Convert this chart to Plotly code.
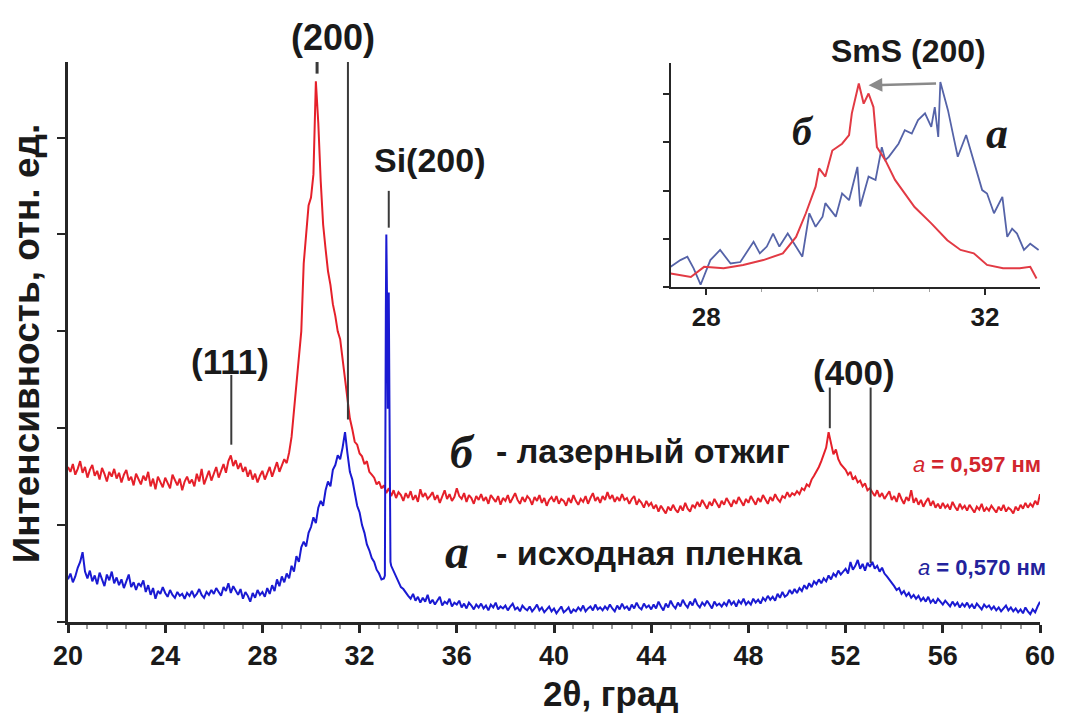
import numpy as np
import plotly.graph_objects as go

# ---------------- data: main pattern (2theta step 0.1 deg, 20..60) ----------------
two_theta = np.round(np.linspace(20, 60, 401), 2)

red_b = [
    1.60, 1.55, 1.63, 1.52, 1.58, 1.66, 1.54, 1.60, 1.49, 1.57,   # 20
    1.62, 1.51, 1.56, 1.47, 1.59, 1.53, 1.45, 1.55, 1.50, 1.58,   # 21
    1.48, 1.54, 1.44, 1.52, 1.57, 1.46, 1.50, 1.41, 1.53, 1.47,   # 22
    1.42, 1.51, 1.46, 1.55, 1.40, 1.48, 1.37, 1.50, 1.44, 1.39,   # 23
    1.49, 1.43, 1.38, 1.52, 1.46, 1.41, 1.48, 1.36, 1.45, 1.50,   # 24
    1.43, 1.47, 1.40, 1.53, 1.45, 1.58, 1.42, 1.50, 1.56, 1.46,   # 25
    1.52, 1.60, 1.49, 1.57, 1.63, 1.54, 1.66, 1.72, 1.61, 1.67,   # 26
    1.58, 1.64, 1.55, 1.60, 1.50, 1.57, 1.47, 1.53, 1.44, 1.51,   # 27
    1.56, 1.47, 1.53, 1.60, 1.50, 1.58, 1.65, 1.55, 1.62, 1.68,   # 28
    1.64, 1.75, 1.91, 2.20, 2.50, 2.75, 3.00, 3.70, 4.05, 4.30,   # 29
    4.38, 4.62, 5.58, 5.15, 4.55, 4.10, 3.85, 3.62, 3.48, 3.28,   # 30
    3.16, 3.00, 2.92, 2.70, 2.50, 2.26, 2.10, 1.99, 1.86, 1.83,   # 31
    1.74, 1.71, 1.63, 1.66, 1.55, 1.52, 1.49, 1.42, 1.45, 1.38,   # 32
    1.41, 1.33, 1.38, 1.30, 1.36, 1.28, 1.34, 1.31, 1.25, 1.33,   # 33
    1.28, 1.35, 1.26, 1.31, 1.24, 1.37, 1.29, 1.33, 1.27, 1.30,   # 34
    1.34, 1.26, 1.31, 1.23, 1.29, 1.36, 1.27, 1.32, 1.25, 1.29,   # 35
    1.38, 1.30, 1.27, 1.33, 1.24, 1.31, 1.28, 1.22, 1.30, 1.26,   # 36
    1.32, 1.25, 1.29, 1.22, 1.31, 1.27, 1.24, 1.30, 1.21, 1.28,   # 37
    1.25, 1.31, 1.23, 1.28, 1.33, 1.26, 1.22, 1.29, 1.24, 1.30,   # 38
    1.27, 1.21, 1.29, 1.25, 1.31, 1.23, 1.28, 1.20, 1.26, 1.29,   # 39
    1.24, 1.30, 1.22, 1.27, 1.25, 1.20, 1.28, 1.23, 1.31, 1.25,   # 40
    1.21, 1.27, 1.24, 1.30, 1.22, 1.28, 1.33, 1.25, 1.29, 1.23,   # 41
    1.30, 1.26, 1.34, 1.27, 1.31, 1.24, 1.29, 1.25, 1.32, 1.26,   # 42
    1.28, 1.22, 1.27, 1.30, 1.21, 1.26, 1.23, 1.18, 1.25, 1.20,   # 43
    1.23, 1.17, 1.21, 1.14, 1.20, 1.16, 1.12, 1.19, 1.15, 1.21,   # 44
    1.16, 1.13, 1.20, 1.15, 1.23, 1.17, 1.14, 1.21, 1.18, 1.24,   # 45
    1.19, 1.26, 1.21, 1.17, 1.24, 1.20, 1.27, 1.22, 1.18, 1.25,   # 46
    1.21, 1.28, 1.23, 1.19, 1.26, 1.22, 1.29, 1.24, 1.20, 1.27,   # 47
    1.23, 1.30, 1.25, 1.21, 1.28, 1.24, 1.31, 1.26, 1.22, 1.29,   # 48
    1.25, 1.32, 1.27, 1.24, 1.30, 1.28, 1.34, 1.29, 1.33, 1.31,   # 49
    1.35, 1.32, 1.38, 1.36, 1.42, 1.40, 1.47, 1.51, 1.55, 1.60,   # 50
    1.66, 1.72, 1.80, 1.96, 1.84, 1.73, 1.78, 1.68, 1.63, 1.60,   # 51
    1.57, 1.52, 1.55, 1.47, 1.50, 1.44, 1.46, 1.40, 1.43, 1.36,   # 52
    1.38, 1.34, 1.30, 1.36, 1.29, 1.33, 1.27, 1.31, 1.35, 1.26,   # 53
    1.30, 1.24, 1.33, 1.27, 1.22, 1.29, 1.25, 1.36, 1.23, 1.28,   # 54
    1.21, 1.26, 1.19, 1.24, 1.28, 1.20, 1.25, 1.18, 1.22, 1.17,   # 55
    1.23, 1.18, 1.21, 1.16, 1.24, 1.19, 1.15, 1.22, 1.17, 1.20,   # 56
    1.15, 1.21, 1.17, 1.13, 1.19, 1.16, 1.22, 1.14, 1.18, 1.15,   # 57
    1.20, 1.16, 1.13, 1.19, 1.15, 1.21, 1.14, 1.18, 1.16, 1.12,   # 58
    1.19, 1.15, 1.21, 1.17, 1.23, 1.18, 1.22, 1.19, 1.25, 1.21,   # 59
    1.32,                                                         # 60
]

blue_a = [
    0.44, 0.50, 0.41, 0.47, 0.56, 0.62, 0.72, 0.52, 0.45, 0.53,   # 20
    0.42, 0.48, 0.39, 0.51, 0.44, 0.37, 0.49, 0.43, 0.52, 0.40,   # 21
    0.46, 0.38, 0.44, 0.35, 0.42, 0.49, 0.36, 0.41, 0.33, 0.40,   # 22
    0.37, 0.43, 0.31, 0.38, 0.28, 0.35, 0.24, 0.32, 0.29, 0.36,   # 23
    0.30, 0.26, 0.33, 0.28, 0.25, 0.31, 0.27, 0.29, 0.24, 0.30,   # 24
    0.27, 0.32, 0.26, 0.29, 0.34, 0.28, 0.25, 0.31, 0.28, 0.33,   # 25
    0.29, 0.35, 0.31, 0.27, 0.36, 0.32, 0.40, 0.30, 0.37, 0.33,   # 26
    0.28, 0.34, 0.24, 0.31, 0.27, 0.21, 0.30, 0.25, 0.33, 0.28,   # 27
    0.31, 0.26, 0.35, 0.29, 0.38, 0.32, 0.44, 0.37, 0.47, 0.41,   # 28
    0.50, 0.45, 0.58, 0.52, 0.68, 0.62, 0.77, 0.83, 0.78, 0.92,   # 29
    0.98, 1.08, 1.02, 1.18, 1.25, 1.20, 1.36, 1.45, 1.40, 1.57,   # 30
    1.62, 1.72, 1.68, 1.80, 1.96, 1.74, 1.55, 1.47, 1.32, 1.20,   # 31
    1.13, 1.00, 0.92, 0.80, 0.74, 0.66, 0.62, 0.54, 0.50, 0.44,   # 32
    0.45, 4.00, 3.40, 0.58, 0.52, 0.46, 0.42, 0.36, 0.34, 0.30,   # 33
    0.27, 0.24, 0.29, 0.22, 0.26, 0.20, 0.25, 0.21, 0.28, 0.19,   # 34
    0.23, 0.18, 0.22, 0.26, 0.17, 0.21, 0.19, 0.24, 0.16, 0.20,   # 35
    0.18, 0.22, 0.15, 0.19, 0.14, 0.20, 0.17, 0.13, 0.18, 0.15,   # 36
    0.19, 0.14, 0.17, 0.12, 0.18, 0.15, 0.20, 0.13, 0.16, 0.14,   # 37
    0.17, 0.12, 0.16, 0.19, 0.13, 0.15, 0.11, 0.17, 0.14, 0.12,   # 38
    0.16, 0.11, 0.14, 0.18, 0.12, 0.15, 0.10, 0.13, 0.16, 0.11,   # 39
    0.14, 0.09, 0.13, 0.16, 0.10, 0.12, 0.15, 0.09, 0.13, 0.11,   # 40
    0.15, 0.12, 0.17, 0.11, 0.14, 0.16, 0.12, 0.18, 0.13, 0.15,   # 41
    0.12, 0.16, 0.13, 0.18, 0.14, 0.11, 0.17, 0.13, 0.19, 0.14,   # 42
    0.16, 0.12, 0.18, 0.14, 0.20, 0.15, 0.13, 0.19, 0.15, 0.17,   # 43
    0.13, 0.18, 0.14, 0.21, 0.16, 0.12, 0.19, 0.15, 0.22, 0.17,   # 44
    0.14, 0.20, 0.16, 0.23, 0.18, 0.15, 0.21, 0.17, 0.24, 0.18,   # 45
    0.15, 0.20, 0.17, 0.22, 0.18, 0.14, 0.21, 0.17, 0.19, 0.16,   # 46
    0.20, 0.17, 0.23, 0.18, 0.21, 0.16, 0.22, 0.19, 0.24, 0.18,   # 47
    0.21, 0.18, 0.24, 0.20, 0.23, 0.19, 0.25, 0.22, 0.27, 0.23,   # 48
    0.26, 0.22, 0.29, 0.25, 0.31, 0.26, 0.28, 0.33, 0.29, 0.34,   # 49
    0.30, 0.35, 0.32, 0.38, 0.34, 0.40, 0.36, 0.42, 0.39, 0.44,   # 50
    0.40, 0.45, 0.42, 0.48, 0.44, 0.50, 0.47, 0.53, 0.49, 0.52,   # 51
    0.55, 0.50, 0.62, 0.54, 0.58, 0.64, 0.55, 0.60, 0.53, 0.61,   # 52
    0.57, 0.62, 0.55, 0.58, 0.52, 0.56, 0.50, 0.47, 0.44, 0.40,   # 53
    0.37, 0.33, 0.35, 0.29, 0.32, 0.27, 0.30, 0.25, 0.28, 0.24,   # 54
    0.27, 0.22, 0.25, 0.21, 0.26, 0.20, 0.23, 0.19, 0.24, 0.21,   # 55
    0.18, 0.22, 0.19, 0.16, 0.21, 0.17, 0.20, 0.15, 0.19, 0.16,   # 56
    0.20, 0.15, 0.18, 0.14, 0.19, 0.16, 0.13, 0.18, 0.15, 0.17,   # 57
    0.13, 0.16, 0.12, 0.15, 0.11, 0.14, 0.17, 0.12, 0.15, 0.11,   # 58
    0.14, 0.10, 0.13, 0.09, 0.15, 0.11, 0.08, 0.13, 0.10, 0.16,   # 59
    0.21,                                                         # 60
]

# extra fine points of the narrow Si(200) substrate line (curve a)
si_x = [33.04, 33.08, 33.13, 33.16, 33.24, 33.27]
si_y = [0.48, 3.20, 3.30, 2.20, 1.40, 0.62]

# ---------------- data: inset (SmS (200) region, normalised) ----------------
inset_red_x = [27.49, 27.78, 27.97, 28.25, 28.53, 28.82, 29.10, 29.29, 29.43, 29.57,
               29.62, 29.71, 29.81, 29.95, 30.05, 30.09, 30.19, 30.26, 30.33, 30.40,
               30.45, 30.57, 30.71, 30.85, 30.99, 31.23, 31.46, 31.65, 31.84, 32.03,
               32.26, 32.50, 32.65, 32.74]
inset_red_y = [0.28, 0.21, 0.42, 0.39, 0.46, 0.56, 0.70, 1.04, 1.53, 2.08,
               2.46, 2.29, 2.83, 2.97, 3.15, 3.60, 4.22, 3.80, 4.01, 3.73,
               2.90, 2.63, 2.22, 1.94, 1.66, 1.32, 0.97, 0.77, 0.70, 0.46,
               0.39, 0.39, 0.42, 0.18]

inset_blue_x = [27.49, 27.63, 27.73, 27.82, 27.92, 28.06, 28.20, 28.35, 28.49, 28.68,
                28.77, 28.87, 28.96, 29.05, 29.17, 29.29, 29.38, 29.48, 29.57, 29.67,
                29.71, 29.86, 29.95, 30.05, 30.17, 30.21, 30.33, 30.43, 30.52, 30.57,
                30.62, 30.76, 30.85, 30.95, 31.04, 31.14, 31.23, 31.28, 31.33, 31.36,
                31.47, 31.56, 31.61, 31.73, 31.84, 31.96, 32.03, 32.13, 32.25, 32.32,
                32.39, 32.46, 32.56, 32.65, 32.77]
inset_blue_y = [0.42, 0.56, 0.63, 0.39, 0.05, 0.56, 0.77, 0.49, 0.52, 0.94,
                0.70, 0.84, 1.11, 0.84, 1.11, 0.84, 0.63, 1.53, 1.25, 1.46,
                1.74, 1.46, 1.94, 1.80, 2.49, 1.67, 2.29, 2.22, 2.90, 2.63,
                2.70, 2.97, 3.25, 3.18, 3.46, 3.60, 3.32, 3.73, 3.11, 4.25,
                3.66, 3.04, 2.70, 3.15, 2.63, 2.01, 1.94, 1.53, 1.87, 1.04,
                1.21, 1.11, 0.77, 0.90, 0.77]

# ---------------- build ----------------
assert len(red_b) == len(two_theta) and len(blue_a) == len(two_theta)
bx = np.concatenate([two_theta, si_x])
by = np.concatenate([blue_a, si_y])
order = np.argsort(bx, kind="stable")
bx, by = bx[order], by[order]

RED = "#e5202a"
BLUE = "#1a1ad2"
IRED = "#e23a44"
IBLUE = "#5563a8"
AX = "#262626"
SANS = "Liberation Sans"
SERIF = "Liberation Serif"

fig = go.Figure()
fig.add_trace(go.Scatter(x=two_theta, y=red_b, mode="lines",
                         line=dict(color=RED, width=2), xaxis="x", yaxis="y",
                         showlegend=False, hoverinfo="skip"))
fig.add_trace(go.Scatter(x=bx, y=by, mode="lines",
                         line=dict(color=BLUE, width=2), xaxis="x", yaxis="y",
                         showlegend=False, hoverinfo="skip"))
fig.add_trace(go.Scatter(x=inset_blue_x, y=inset_blue_y, mode="lines",
                         line=dict(color=IBLUE, width=1.8), xaxis="x2", yaxis="y2",
                         showlegend=False, hoverinfo="skip"))
fig.add_trace(go.Scatter(x=inset_red_x, y=inset_red_y, mode="lines",
                         line=dict(color=IRED, width=2), xaxis="x2", yaxis="y2",
                         showlegend=False, hoverinfo="skip"))

tickfont_main = dict(family=SANS, size=27, color="#1a1a1a", weight="bold")

fig.update_layout(
    width=1067, height=713,
    margin=dict(l=68, r=23, t=62, b=91),
    paper_bgcolor="white", plot_bgcolor="white",
    xaxis=dict(domain=[0, 1], range=[20, 60], dtick=4, tick0=0,
               showline=True, linecolor=AX, linewidth=2.5,
               ticks="outside", ticklen=8, tickwidth=2.5, tickcolor=AX,
               tickfont=tickfont_main,
               showgrid=False, zeroline=False,
               minor=dict(dtick=0.8, tick0=0, ticks="outside", ticklen=4,
                          tickwidth=1.5, tickcolor="#9a9a9a", showgrid=False),
               anchor="y"),
    yaxis=dict(domain=[0, 1], range=[0, 5.78], dtick=1, tick0=0,
               showline=True, linecolor=AX, linewidth=2.5,
               ticks="outside", ticklen=8, tickwidth=2, tickcolor=AX,
               showticklabels=False, showgrid=False, zeroline=False,
               anchor="x"),
    xaxis2=dict(domain=[0.62, 1.0], range=[27.49, 32.79], dtick=4, tick0=0,
                showline=True, linecolor=AX, linewidth=2,
                ticks="outside", ticklen=6, tickwidth=2, tickcolor=AX,
                tickfont=dict(family=SANS, size=26, color="#1a1a1a", weight="bold"),
                showgrid=False, zeroline=False,
                minor=dict(dtick=0.8, tick0=0, ticks="outside", ticklen=3,
                           tickwidth=1.2, tickcolor="#a0a0a0", showgrid=False),
                anchor="y2"),
    yaxis2=dict(domain=[0.598, 0.998], range=[0, 4.64], dtick=1, tick0=0,
                showline=True, linecolor=AX, linewidth=2,
                ticks="outside", ticklen=6, tickwidth=1.5, tickcolor=AX,
                showticklabels=False, showgrid=False, zeroline=False,
                anchor="x2"),
)

# reflection marker lines
LC = "#3a3a3a"
markers = [
    (30.25, 5.66, 5.78, 3),   # (200) of б
    (31.52, 2.09, 5.78, 2),   # (200) of а
    (26.72, 1.83, 2.55, 2),   # (111)
    (33.20, 4.07, 4.45, 2),   # Si(200)
    (51.35, 2.00, 2.42, 2),   # (400) of б
    (53.03, 0.61, 2.42, 2),   # (400) of а
]
for xm, y0, y1, w in markers:
    fig.add_shape(type="line", xref="x", yref="y", x0=xm, x1=xm, y0=y0, y1=y1,
                  line=dict(color=LC, width=w))

def lab(text, x, y, size, xref="x", yref="y", color="#1a1a1a", family=SANS,
        xanchor="center", yanchor="middle", **kw):
    fig.add_annotation(text=text, x=x, y=y, xref=xref, yref=yref, showarrow=False,
                       font=dict(family=family, size=size, color=color),
                       xanchor=xanchor, yanchor=yanchor, **kw)

lab("<b>(200)</b>", 0.2725, 1.043, 36, xref="paper", yref="paper")
lab("<b>(111)</b>", 26.68, 2.69, 35)
lab("<b>Si(200)</b>", 34.88, 4.77, 34)
lab("<b>(400)</b>", 52.34, 2.58, 35)

lab("<b><i>б</i></b>", 36.22, 1.75, 46, family=SERIF)
lab("<b>- лазерный отжиг</b>", 37.55, 1.76, 34, xanchor="left")
lab("<b><i>а</i></b>", 36.02, 0.73, 48, family=SERIF)
lab("<b>- исходная пленка</b>", 37.55, 0.71, 34, xanchor="left")

lab("<i>a</i><b> = 0,597 нм</b>", 1.003, 0.282, 22, xref="paper", yref="paper",
    color="#d2262e", xanchor="right")
lab("<i>a</i><b> = 0,570 нм</b>", 1.008, 0.098, 22, xref="paper", yref="paper",
    color="#23239c", xanchor="right")

# axis titles
lab("<b>2θ, град</b>", 0.558, -0.127, 35, xref="paper", yref="paper")
lab("<b>Интенсивность, отн. ед.</b>", -0.043, 0.498, 37, xref="paper", yref="paper",
    textangle=-90)

# inset labels
lab("<b>SmS (200)</b>", 0.865, 1.020, 32, xref="paper", yref="paper")
lab("<b><i>б</i></b>", 29.39, 3.23, 40, xref="x2", yref="y2", family=SERIF)
lab("<b><i>а</i></b>", 32.17, 3.19, 44, xref="x2", yref="y2", family=SERIF)
fig.add_annotation(x=30.33, y=4.18, ax=31.32, ay=4.22, xref="x2", yref="y2",
                   axref="x2", ayref="y2", showarrow=True, arrowhead=2,
                   arrowsize=1.1, arrowwidth=2.5, arrowcolor="#8a8a8a", text="")

fig.write_html("out.html")
